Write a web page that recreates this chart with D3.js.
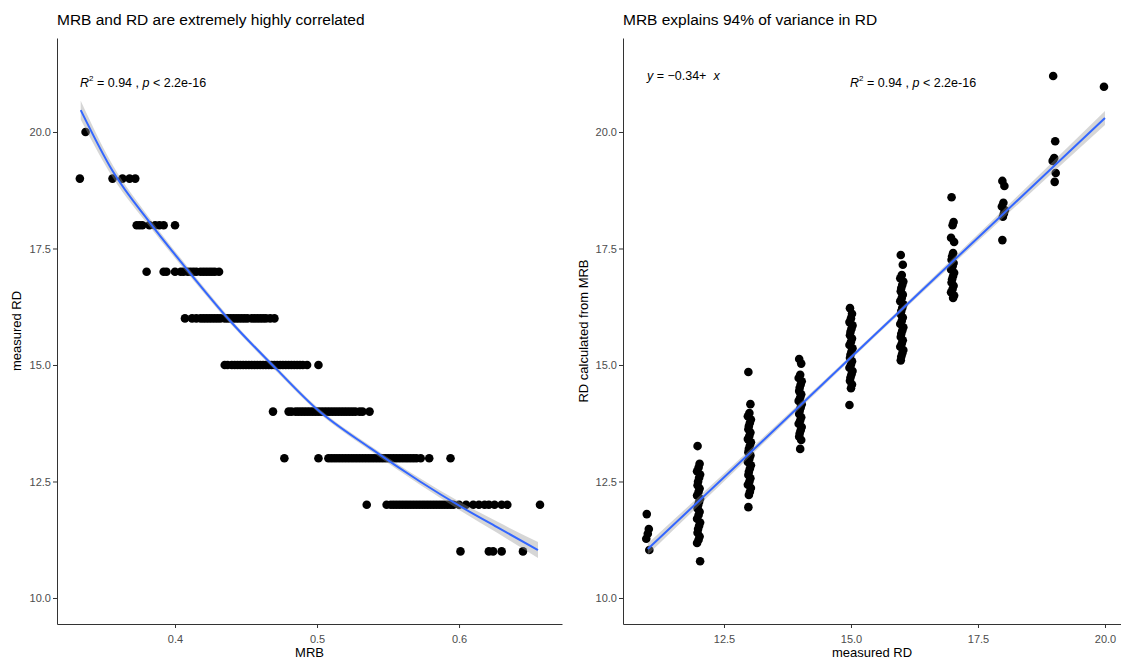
<!DOCTYPE html>
<html>
<script src='https://d3js.org/d3.v7.min.js'></script>
<style>
	body {margin: 0; background: white; }
	svg {display: block; font-family: Arial, "Liberation Sans", sans-serif; }
	.tick text {fill: #4d4d4d; font-size: 11px; }
	.tick line {stroke: #333; }
	.domain {stroke: #333; }
</style>
<body>
<svg id="chart" width="1121" height="659"></svg>
<script>
// ---- data ----
const yTicks = [10, 12.5, 15, 17.5, 20];
const mrbTicks = [0.4, 0.5, 0.6];
const rdTicks = [12.5, 15, 17.5, 20];

// left panel: MRB values for each measured RD level
const rdLevels = [20, 19, 18, 17, 16, 15, 14, 13, 12, 11];
const mrbRows = [
	[0.337],
	[0.333, 0.356, 0.363, 0.368, 0.372],
	[0.373, 0.375, 0.377, 0.382, 0.386, 0.389, 0.392, 0.400],
	[0.380, 0.392, 0.394, 0.400, 0.404, 0.406, 0.409, 0.411, 0.413, 0.415, 0.418, 0.420, 0.422, 0.424, 0.426, 0.428, 0.431],
	[0.407, 0.412, 0.415, 0.418, 0.420, 0.422, 0.424, 0.426, 0.428, 0.430, 0.432, 0.435, 0.437, 0.439, 0.441, 0.443, 0.445, 0.447, 0.449, 0.451, 0.454, 0.456, 0.458, 0.460, 0.462, 0.464, 0.467, 0.470],
	[0.435, 0.437, 0.440, 0.442, 0.444, 0.446, 0.448, 0.450, 0.452, 0.454, 0.456, 0.458, 0.460, 0.462, 0.464, 0.466, 0.468, 0.470, 0.472, 0.474, 0.476, 0.478, 0.480, 0.482, 0.484, 0.486, 0.488, 0.490, 0.493, 0.501],
	[0.469, 0.480, 0.482, 0.485, 0.487, 0.489, 0.491, 0.493, 0.495, 0.497, 0.499, 0.501, 0.503, 0.505, 0.507, 0.509, 0.511, 0.513, 0.515, 0.517, 0.519, 0.521, 0.523, 0.525, 0.527, 0.530, 0.532, 0.537],
	[0.477, 0.501, 0.508, 0.510, 0.512, 0.514, 0.516, 0.518, 0.520, 0.522, 0.524, 0.526, 0.528, 0.530, 0.532, 0.534, 0.536, 0.538, 0.540, 0.542, 0.544, 0.546, 0.548, 0.550, 0.552, 0.554, 0.556, 0.558, 0.560, 0.562, 0.564, 0.566, 0.568, 0.570, 0.573, 0.579, 0.594],
	[0.535, 0.549, 0.552, 0.554, 0.556, 0.558, 0.560, 0.562, 0.564, 0.566, 0.568, 0.570, 0.572, 0.574, 0.576, 0.578, 0.580, 0.582, 0.584, 0.586, 0.588, 0.590, 0.592, 0.594, 0.596, 0.600, 0.605, 0.610, 0.614, 0.618, 0.621, 0.625, 0.630, 0.634, 0.657],
	[0.601, 0.621, 0.624, 0.630, 0.645]
];

// left panel smoother (curve through the fit) and its band half width
const smoothMRB = [0.3336, 0.3563, 0.3824, 0.4085, 0.4387, 0.4718, 0.5000, 0.5373, 0.5725, 0.6007, 0.6268, 0.6556];
const smoothRD  = [20.47, 19.15, 18.05, 17.05, 15.95, 14.90, 14.05, 13.22, 12.50, 11.97, 11.52, 11.03];
const smoothSE  = [0.20, 0.13, 0.09, 0.07, 0.055, 0.05, 0.05, 0.055, 0.07, 0.09, 0.12, 0.17];

// right panel: calculated RD values for each measured RD level
const measuredLevels = [11, 12, 13, 14, 15, 16, 17, 18, 19, 20];
const calcCols = [
	[11.80, 11.48, 11.38, 11.27, 11.03],
	[13.26, 12.88, 12.80, 12.72, 12.65, 12.58, 12.50, 12.42, 12.35, 12.28, 12.20, 12.13, 12.06, 11.99, 11.92, 11.85, 11.78, 11.70, 11.62, 11.55, 11.48, 11.40, 11.32, 11.25, 11.18, 10.79],
	[14.85, 14.16, 13.97, 13.90, 13.83, 13.76, 13.69, 13.62, 13.55, 13.48, 13.41, 13.34, 13.27, 13.20, 13.13, 13.06, 12.99, 12.92, 12.85, 12.78, 12.71, 12.64, 12.57, 12.50, 12.43, 12.36, 12.28, 12.21, 11.95],
	[15.13, 15.03, 14.79, 14.72, 14.65, 14.58, 14.51, 14.44, 14.37, 14.30, 14.23, 14.16, 14.09, 14.02, 13.95, 13.88, 13.81, 13.74, 13.67, 13.60, 13.53, 13.46, 13.39, 13.20],
	[16.22, 16.10, 16.00, 15.92, 15.85, 15.78, 15.71, 15.64, 15.57, 15.50, 15.43, 15.36, 15.29, 15.22, 15.15, 15.08, 15.01, 14.94, 14.87, 14.80, 14.73, 14.66, 14.58, 14.50, 14.14],
	[17.36, 17.15, 16.93, 16.86, 16.79, 16.72, 16.65, 16.58, 16.51, 16.44, 16.37, 16.30, 16.23, 16.16, 16.09, 16.02, 15.95, 15.88, 15.81, 15.74, 15.67, 15.60, 15.53, 15.46, 15.39, 15.32, 15.25, 15.18, 15.10],
	[18.60, 18.07, 18.00, 17.73, 17.64, 17.40, 17.33, 17.26, 17.19, 17.12, 17.05, 16.98, 16.91, 16.84, 16.77, 16.70, 16.63, 16.56, 16.49, 16.44],
	[18.95, 18.84, 18.48, 18.40, 18.32, 18.25, 18.18, 17.68],
	[21.20, 19.80, 19.44, 19.38, 19.12, 18.93],
	[20.97]
];
// small sideways spread of the points within a column (measured RD units)
const colSpread = [-0.02, 0.02, 0, -0.03, 0.03, 0.01, -0.01];

// right panel fitted line and band half width
const fitRD   = [11, 13.25, 15.5, 17.75, 20];
const fitCalc = [11.05, 13.36, 15.68, 17.99, 20.30];
const fitSE   = [0.12, 0.07, 0.045, 0.08, 0.15];

// ---- drawing ----
const svg = d3.select("#chart");
const blue = "#3366FF";

const y = d3.scaleLinear().domain([9.442, 22.017]).range([624, 38]);
const xL = d3.scaleLinear().domain([0.3169, 0.6725]).range([57, 562]);
const xR = d3.scaleLinear().domain([10.512, 20.453]).range([623, 1128]);

function axes(x, xt, left, right, title, xlab, ylab, ylabX) {
	svg.append("g")
		.attr("transform", `translate(0,624)`)
		.call(d3.axisBottom(x).tickValues(xt).tickFormat(d3.format(".1f")).tickSize(4).tickSizeOuter(0))
		.call(g => g.selectAll(".tick text").attr("dy", "1.05em"));
	svg.append("g")
		.attr("transform", `translate(${left},0)`)
		.call(d3.axisLeft(y).tickValues(yTicks).tickFormat(d3.format(".1f")).tickSize(4).tickSizeOuter(0))
		.call(g => g.selectAll(".tick text").attr("dy", "0.35em").attr("x", -6));
	svg.append("text")
		.attr("x", left).attr("y", 25)
		.attr("font-size", "15.5px").attr("fill", "black")
		.text(title);
	svg.append("text")
		.attr("x", (left + right) / 2).attr("y", 657)
		.attr("text-anchor", "middle")
		.attr("font-size", "13px").attr("fill", "black")
		.text(xlab);
	svg.append("text")
		.attr("transform", `translate(${ylabX},331) rotate(-90)`)
		.attr("text-anchor", "middle")
		.attr("font-size", "13px").attr("fill", "black")
		.text(ylab);
}

axes(xL, mrbTicks, 57, 562,
	"MRB and RD are extremely highly correlated", "MRB", "measured RD", 21);
axes(xR, rdTicks, 623, 1121,
	"MRB explains 94% of variance in RD", "measured RD", "RD calculated from MRB", 588);

// left points
const leftPts = rdLevels.flatMap((rd, i) => mrbRows[i].map(m => ({x: m, y: rd})));
svg.append("g").selectAll("circle")
	.data(leftPts)
	.enter()
	.append("circle")
	.attr("cx", d => xL(d.x))
	.attr("cy", d => y(d.y))
	.attr("r", 4.3)
	.attr("fill", "black");

// left band + smoother
const leftSmooth = smoothMRB.map((m, i) => ({x: m, y: smoothRD[i], se: smoothSE[i]}));
svg.append("path")
	.datum(leftSmooth)
	.attr("fill", "#999999")
	.attr("opacity", 0.4)
	.attr("d", d3.area().curve(d3.curveMonotoneX)
		.x(d => xL(d.x)).y0(d => y(d.y - d.se)).y1(d => y(d.y + d.se)));
svg.append("path")
	.datum(leftSmooth)
	.attr("fill", "none")
	.attr("stroke", blue)
	.attr("stroke-width", 2)
	.attr("d", d3.line().curve(d3.curveMonotoneX).x(d => xL(d.x)).y(d => y(d.y)));

// right points
const rightPts = measuredLevels.flatMap((m, i) =>
	calcCols[i].map((c, j) => ({x: m + colSpread[j % colSpread.length], y: c})));
svg.append("g").selectAll("circle")
	.data(rightPts)
	.enter()
	.append("circle")
	.attr("cx", d => xR(d.x))
	.attr("cy", d => y(d.y))
	.attr("r", 4.3)
	.attr("fill", "black");

const rightFit = fitRD.map((m, i) => ({x: m, y: fitCalc[i], se: fitSE[i]}));
svg.append("path")
	.datum(rightFit)
	.attr("fill", "#999999")
	.attr("opacity", 0.4)
	.attr("d", d3.area().curve(d3.curveMonotoneX)
		.x(d => xR(d.x)).y0(d => y(d.y - d.se)).y1(d => y(d.y + d.se)));
svg.append("path")
	.datum(rightFit)
	.attr("fill", "none")
	.attr("stroke", blue)
	.attr("stroke-width", 2)
	.attr("d", d3.line().x(d => xR(d.x)).y(d => y(d.y)));

// annotations
function corLabel(x, yy) {
	const t = svg.append("text")
		.attr("x", x).attr("y", yy)
		.attr("font-size", "12.5px").attr("fill", "black");
	t.append("tspan").attr("font-style", "italic").text("R");
	t.append("tspan").attr("font-size", "8px").attr("dy", -6).text("2");
	t.append("tspan").attr("dy", 6).text(" = 0.94 , ");
	t.append("tspan").attr("font-style", "italic").text("p");
	t.append("tspan").text(" < 2.2e-16");
}
corLabel(80, 87);
corLabel(850, 87);

const eq = svg.append("text")
	.attr("x", 647).attr("y", 80)
	.attr("font-size", "12.5px").attr("fill", "black");
eq.append("tspan").attr("font-style", "italic").text("y");
eq.append("tspan").text(" = \u22120.34+\u00a0\u00a0");
eq.append("tspan").attr("font-style", "italic").text("x");
</script>
</body>
</html>
